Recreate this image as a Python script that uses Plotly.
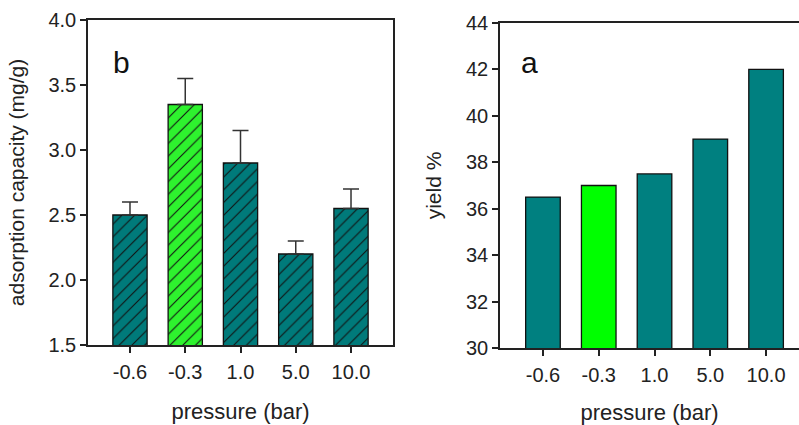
import plotly.graph_objects as go

# Data
pressure_labels = ["-0.6", "-0.3", "1.0", "5.0", "10.0"]
adsorption = [2.5, 3.35, 2.9, 2.2, 2.55]
adsorption_err = [0.1, 0.2, 0.25, 0.1, 0.15]
yield_pct = [36.5, 37.0, 37.5, 39.0, 42.0]
highlight = "-0.3"

teal_b = "#007a7a"
green_b = "#2ef22e"
teal_a = "#008080"
green_a = "#00ff00"

W, H = 799, 425
FONT = "Liberation Sans, Arial, sans-serif"
AX = "#222222"

fig = go.Figure()

# panel b: adsorption capacity, hatched bars with one-sided error bars
for is_hl, color in ((False, teal_b), (True, green_b)):
    idx = [i for i, lab in enumerate(pressure_labels) if (lab == highlight) == is_hl]
    fig.add_trace(go.Bar(
        x=idx, y=[adsorption[i] for i in idx],
        width=0.62,
        marker=dict(color=color, line=dict(color="#111111", width=1.3),
                    pattern=dict(shape="/", fgcolor="#111111", bgcolor=color,
                                 size=9, solidity=0.12, fillmode="replace",
                                 fgopacity=1)),
        error_y=dict(type="data", array=[adsorption_err[i] for i in idx],
                     arrayminus=[0] * len(idx), symmetric=False,
                     color="#333333", thickness=1.5, width=8),
        xaxis="x", yaxis="y", showlegend=False,
    ))

# panel a: yield
fig.add_trace(go.Bar(
    x=list(range(len(pressure_labels))), y=yield_pct,
    width=0.62,
    marker=dict(color=[green_a if lab == highlight else teal_a for lab in pressure_labels],
                line=dict(color="#111111", width=1.3)),
    xaxis="x2", yaxis="y2", showlegend=False,
))

def px_x(p):
    return p / W

def px_y(p):
    return 1 - p / H

axis_common = dict(showgrid=False, zeroline=False, showline=True, linecolor=AX,
                   linewidth=1.5, ticks="outside", tickcolor=AX, tickwidth=1.5,
                   ticklen=6, automargin=False,
                   tickfont=dict(family=FONT, size=20, color="#222"))

fig.update_layout(
    width=W, height=H,
    barmode="overlay",
    margin=dict(l=0, r=0, t=0, b=0),
    paper_bgcolor="white", plot_bgcolor="white",
    font=dict(family=FONT, color="#222"),
    xaxis=dict(axis_common, domain=[px_x(88), px_x(393)], range=[-0.76, 4.76],
               tickmode="array", tickvals=list(range(5)), ticktext=pressure_labels,
               mirror=True, anchor="y", ticklabelstandoff=2,
               title=dict(text="pressure (bar)", font=dict(size=22), standoff=22)),
    yaxis=dict(axis_common, domain=[px_y(345), px_y(20)], range=[1.5, 4.0],
               tickvals=[1.5, 2.0, 2.5, 3.0, 3.5, 4.0], tickformat=".1f",
               mirror=True, anchor="x", ticklabelstandoff=0,
               title=dict(text="adsorption capacity (mg/g)", font=dict(size=21), standoff=18)),
    xaxis2=dict(axis_common, domain=[px_x(500), 1.0], range=[-0.77, 4.59],
                tickmode="array", tickvals=list(range(5)), ticktext=pressure_labels,
                mirror=True, anchor="y2", ticklabelstandoff=2,
                title=dict(text="pressure (bar)", font=dict(size=22), standoff=22)),
    yaxis2=dict(axis_common, domain=[px_y(348), px_y(23)], range=[30, 44],
                tickvals=[30, 32, 34, 36, 38, 40, 42, 44],
                mirror=False, anchor="x2", ticklabelstandoff=0,
                title=dict(text="yield %", font=dict(size=21), standoff=19)),
    annotations=[
        dict(text="b", x=px_x(111), y=px_y(44), xref="paper", yref="paper",
             showarrow=False, font=dict(family=FONT, size=30, color="#111")),
        dict(text="a", x=px_x(529), y=px_y(44), xref="paper", yref="paper",
             showarrow=False, font=dict(family=FONT, size=30, color="#111")),
    ],
)

fig.write_html("out.html")
